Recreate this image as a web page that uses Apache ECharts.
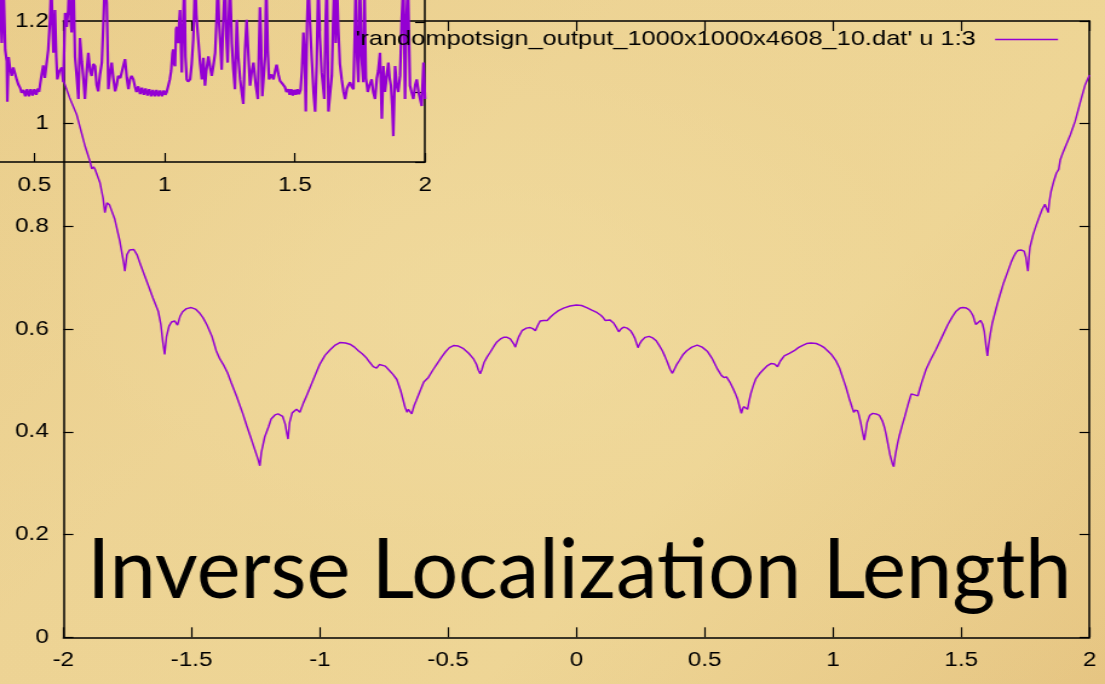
<!DOCTYPE html>
<html>
<head>
<meta charset="utf-8">
<script src="https://cdn.jsdelivr.net/npm/echarts@6.0.0/dist/echarts.min.js"></script>
<style>
  html, body { margin: 0; padding: 0; }
  #wrap {
    width: 1105px; height: 684px; overflow: hidden; position: relative;
    background:
      radial-gradient(ellipse at 45% 45%, rgba(242,222,162,0.55) 0%, rgba(238,214,150,0.25) 50%, rgba(226,192,124,0.0) 100%),
      linear-gradient(135deg, #e9cc8a 0%, #edd394 35%, #eed595 65%, #e6c582 100%);
  }
  #chart { width: 913px; height: 684px; transform: scaleX(1.2103); transform-origin: 0 0; }
</style>
</head>
<body>
<div id="wrap"><div id="chart"></div></div>
<script>
// ---- data ----
const seriesName = "'randompotsign_output_1000x1000x4608_10.dat' u 1:3";
const titleText = "Inverse Localization Length";

const mainXTicks = { min: -2, max: 2, step: 0.5 };
const mainYTicks = { min: 0, max: 1.2, step: 0.2 };
const insetXTicks = { min: 0, max: 2, step: 0.5 };
const insetYTicks = { min: 1.0, max: 1.3, step: 0.1 };

const mainCurve = [
  [-2.0, 1.085], [-1.975, 1.05], [-1.948, 1.018], [-1.915, 0.956], [-1.895, 0.925],
  [-1.889, 0.912], [-1.882, 0.916], [-1.876, 0.911], [-1.857, 0.885], [-1.845, 0.855],
  [-1.838, 0.827], [-1.830, 0.846], [-1.82, 0.842], [-1.80, 0.815], [-1.78, 0.772],
  [-1.765, 0.73], [-1.760, 0.713], [-1.752, 0.745], [-1.742, 0.754], [-1.735, 0.756],
  [-1.725, 0.755], [-1.712, 0.744], [-1.70, 0.727], [-1.68, 0.70], [-1.665, 0.68],
  [-1.651, 0.661], [-1.63, 0.635], [-1.62, 0.61], [-1.612, 0.575], [-1.605, 0.551],
  [-1.598, 0.585], [-1.588, 0.606], [-1.578, 0.614], [-1.566, 0.616], [-1.555, 0.608],
  [-1.545, 0.625], [-1.535, 0.634], [-1.52, 0.640], [-1.501, 0.642], [-1.485, 0.639],
  [-1.47, 0.632], [-1.455, 0.622], [-1.44, 0.608], [-1.42, 0.585], [-1.404, 0.558],
  [-1.39, 0.542], [-1.375, 0.530], [-1.36, 0.515], [-1.345, 0.495], [-1.325, 0.470],
  [-1.30, 0.435], [-1.285, 0.412], [-1.27, 0.39], [-1.25, 0.36], [-1.240, 0.345],
  [-1.234, 0.334], [-1.228, 0.36], [-1.215, 0.39], [-1.20, 0.41], [-1.19, 0.425],
  [-1.175, 0.433], [-1.163, 0.435], [-1.145, 0.43], [-1.135, 0.415], [-1.128, 0.395],
  [-1.124, 0.386], [-1.118, 0.418], [-1.108, 0.437], [-1.091, 0.444], [-1.078, 0.438],
  [-1.065, 0.455], [-1.052, 0.470], [-1.027, 0.500], [-1.012, 0.518], [-1.0, 0.532],
  [-0.98, 0.549], [-0.96, 0.56], [-0.94, 0.569], [-0.922, 0.574], [-0.90, 0.573],
  [-0.88, 0.57], [-0.865, 0.565], [-0.850, 0.558], [-0.835, 0.552], [-0.82, 0.545],
  [-0.805, 0.535], [-0.792, 0.527], [-0.779, 0.524], [-0.768, 0.531], [-0.759, 0.533],
  [-0.745, 0.528], [-0.73, 0.52], [-0.715, 0.512], [-0.700, 0.502], [-0.685, 0.48],
  [-0.668, 0.448], [-0.66, 0.438], [-0.655, 0.444], [-0.650, 0.447], [-0.642, 0.435],
  [-0.632, 0.452], [-0.625, 0.46], [-0.609, 0.480], [-0.595, 0.497], [-0.577, 0.506],
  [-0.56, 0.520], [-0.544, 0.532], [-0.525, 0.546], [-0.51, 0.556], [-0.495, 0.564],
  [-0.479, 0.568], [-0.46, 0.567], [-0.44, 0.562], [-0.42, 0.553], [-0.401, 0.542],
  [-0.39, 0.532], [-0.382, 0.52], [-0.375, 0.513], [-0.368, 0.522], [-0.36, 0.535],
  [-0.348, 0.546], [-0.336, 0.555], [-0.32, 0.568], [-0.31, 0.575], [-0.296, 0.581],
  [-0.284, 0.584], [-0.27, 0.584], [-0.258, 0.581], [-0.245, 0.572], [-0.238, 0.565],
  [-0.23, 0.578], [-0.225, 0.585], [-0.212, 0.597], [-0.195, 0.602], [-0.180, 0.603],
  [-0.170, 0.601], [-0.160, 0.597], [-0.150, 0.608], [-0.141, 0.616], [-0.128, 0.617],
  [-0.114, 0.617], [-0.10, 0.624], [-0.089, 0.629], [-0.07, 0.636], [-0.05, 0.641],
  [-0.025, 0.645], [0.0, 0.647],
  [0.02, 0.646], [0.04, 0.642], [0.06, 0.637], [0.081, 0.632], [0.095, 0.627],
  [0.105, 0.622], [0.112, 0.617], [0.120, 0.615], [0.130, 0.618], [0.138, 0.616],
  [0.145, 0.612], [0.155, 0.604], [0.165, 0.595], [0.175, 0.601], [0.185, 0.604],
  [0.198, 0.602], [0.211, 0.597], [0.22, 0.59], [0.228, 0.582], [0.240, 0.564],
  [0.247, 0.572], [0.255, 0.578], [0.268, 0.584], [0.283, 0.586], [0.297, 0.583],
  [0.31, 0.578], [0.322, 0.569], [0.335, 0.558], [0.345, 0.547], [0.355, 0.535],
  [0.365, 0.522], [0.374, 0.514], [0.38, 0.52], [0.385, 0.525], [0.392, 0.532],
  [0.400, 0.538], [0.415, 0.55], [0.43, 0.558], [0.45, 0.565], [0.471, 0.569],
  [0.49, 0.565], [0.51, 0.557], [0.53, 0.542], [0.550, 0.522], [0.565, 0.51],
  [0.575, 0.506], [0.585, 0.507], [0.598, 0.497], [0.61, 0.485], [0.62, 0.474],
  [0.628, 0.464], [0.637, 0.447], [0.643, 0.436], [0.648, 0.445], [0.652, 0.449],
  [0.66, 0.446], [0.667, 0.444], [0.673, 0.46], [0.68, 0.475], [0.69, 0.491],
  [0.699, 0.503], [0.715, 0.514], [0.73, 0.522], [0.745, 0.529], [0.758, 0.533],
  [0.772, 0.532], [0.784, 0.527], [0.795, 0.538], [0.810, 0.548], [0.83, 0.553],
  [0.849, 0.558], [0.865, 0.564], [0.88, 0.568], [0.897, 0.572], [0.914, 0.573],
  [0.935, 0.572], [0.953, 0.568], [0.966, 0.564], [0.979, 0.558], [0.995, 0.55],
  [1.012, 0.538], [1.025, 0.525], [1.035, 0.51], [1.05, 0.488], [1.064, 0.464],
  [1.075, 0.447], [1.081, 0.438], [1.086, 0.442], [1.090, 0.444], [1.096, 0.441],
  [1.100, 0.435], [1.108, 0.418], [1.115, 0.40], [1.122, 0.384], [1.127, 0.398],
  [1.133, 0.418], [1.143, 0.432], [1.155, 0.436], [1.168, 0.435], [1.181, 0.432],
  [1.192, 0.422], [1.20, 0.41], [1.207, 0.395], [1.214, 0.377], [1.222, 0.356],
  [1.228, 0.345], [1.233, 0.336], [1.237, 0.332], [1.241, 0.348], [1.245, 0.36],
  [1.252, 0.378], [1.259, 0.393], [1.27, 0.413], [1.28, 0.43], [1.292, 0.452],
  [1.305, 0.474], [1.318, 0.472], [1.331, 0.470], [1.338, 0.483], [1.345, 0.495],
  [1.355, 0.51], [1.363, 0.522], [1.38, 0.54], [1.402, 0.561], [1.425, 0.585],
  [1.448, 0.609], [1.465, 0.624], [1.48, 0.635], [1.495, 0.641], [1.507, 0.642],
  [1.52, 0.641], [1.530, 0.638], [1.538, 0.633], [1.546, 0.626], [1.552, 0.616],
  [1.557, 0.609], [1.565, 0.612], [1.575, 0.617], [1.583, 0.61], [1.590, 0.595],
  [1.596, 0.57], [1.602, 0.548], [1.607, 0.57], [1.613, 0.59], [1.621, 0.612],
  [1.630, 0.629], [1.640, 0.648], [1.650, 0.665], [1.665, 0.69], [1.682, 0.713],
  [1.695, 0.731], [1.705, 0.742], [1.713, 0.749], [1.721, 0.753], [1.733, 0.754],
  [1.745, 0.752], [1.752, 0.74], [1.756, 0.725], [1.760, 0.713], [1.764, 0.74],
  [1.768, 0.76], [1.775, 0.774], [1.780, 0.784], [1.792, 0.802], [1.805, 0.82],
  [1.816, 0.834], [1.826, 0.843], [1.833, 0.84], [1.839, 0.827], [1.844, 0.85],
  [1.850, 0.868], [1.860, 0.887], [1.871, 0.904], [1.880, 0.911], [1.886, 0.930],
  [1.895, 0.942], [1.905, 0.954], [1.925, 0.978], [1.944, 1.005], [1.963, 1.04],
  [1.983, 1.076], [2.0, 1.095]
];

const insetCurve = [
  [0.368, 1.24], [0.375, 1.17], [0.381, 1.26], [0.388, 1.16], [0.394, 1.144],
  [0.396, 1.086], [0.401, 1.15], [0.406, 1.135], [0.413, 1.123], [0.419, 1.135],
  [0.426, 1.126], [0.432, 1.118], [0.438, 1.111], [0.445, 1.106], [0.451, 1.099],
  [0.458, 1.103], [0.465, 1.094], [0.472, 1.104], [0.479, 1.094], [0.486, 1.104],
  [0.493, 1.095], [0.500, 1.104], [0.507, 1.096], [0.514, 1.105], [0.518, 1.100],
  [0.522, 1.111], [0.528, 1.125], [0.534, 1.138], [0.540, 1.12], [0.547, 1.118],
  [0.553, 1.16], [0.560, 1.203], [0.565, 1.26], [0.569, 1.2], [0.573, 1.156],
  [0.577, 1.19], [0.579, 1.217], [0.584, 1.15], [0.588, 1.118], [0.596, 1.13],
  [0.605, 1.135], [0.611, 1.114], [0.615, 1.17], [0.618, 1.213], [0.621, 1.2],
  [0.624, 1.193], [0.630, 1.217], [0.634, 1.26], [0.640, 1.2], [0.643, 1.185],
  [0.650, 1.26], [0.656, 1.15], [0.663, 1.12], [0.669, 1.09], [0.675, 1.177],
  [0.682, 1.144], [0.688, 1.12], [0.694, 1.09], [0.701, 1.13], [0.707, 1.156],
  [0.714, 1.13], [0.720, 1.123], [0.726, 1.14], [0.733, 1.137], [0.739, 1.11],
  [0.745, 1.101], [0.752, 1.125], [0.759, 1.142], [0.765, 1.2], [0.771, 1.26],
  [0.778, 1.227], [0.784, 1.104], [0.790, 1.125], [0.797, 1.142], [0.803, 1.12],
  [0.810, 1.101], [0.816, 1.11], [0.822, 1.123], [0.830, 1.12], [0.840, 1.135],
  [0.848, 1.147], [0.855, 1.12], [0.861, 1.104], [0.867, 1.118], [0.873, 1.123],
  [0.880, 1.118], [0.886, 1.108], [0.892, 1.100], [0.899, 1.108], [0.906, 1.097],
  [0.913, 1.106], [0.920, 1.096], [0.927, 1.105], [0.934, 1.095], [0.941, 1.104],
  [0.948, 1.094], [0.955, 1.103], [0.962, 1.094], [0.969, 1.103], [0.976, 1.094],
  [0.983, 1.102], [0.990, 1.094], [0.997, 1.102], [1.003, 1.096], [1.008, 1.100],
  [1.014, 1.109], [1.020, 1.118], [1.025, 1.130], [1.030, 1.155], [1.033, 1.161],
  [1.037, 1.14], [1.040, 1.137], [1.044, 1.19], [1.047, 1.193], [1.050, 1.175],
  [1.053, 1.170], [1.056, 1.20], [1.059, 1.217], [1.063, 1.16], [1.066, 1.128],
  [1.071, 1.2], [1.076, 1.26], [1.080, 1.15], [1.085, 1.118], [1.090, 1.115],
  [1.098, 1.118], [1.104, 1.14], [1.110, 1.175], [1.114, 1.22], [1.117, 1.26],
  [1.122, 1.21], [1.127, 1.185], [1.136, 1.142], [1.143, 1.118], [1.149, 1.149],
  [1.155, 1.109], [1.160, 1.13], [1.168, 1.151], [1.175, 1.135], [1.181, 1.123],
  [1.188, 1.14], [1.194, 1.156], [1.199, 1.2], [1.204, 1.26], [1.209, 1.2],
  [1.213, 1.175], [1.219, 1.132], [1.225, 1.2], [1.232, 1.26], [1.237, 1.18],
  [1.242, 1.142], [1.246, 1.2], [1.251, 1.26], [1.258, 1.17], [1.264, 1.132],
  [1.270, 1.104], [1.277, 1.203], [1.283, 1.15], [1.290, 1.118], [1.296, 1.10],
  [1.302, 1.083], [1.309, 1.161], [1.315, 1.203], [1.322, 1.15], [1.328, 1.109],
  [1.335, 1.13], [1.341, 1.142], [1.350, 1.11], [1.358, 1.090], [1.366, 1.221],
  [1.370, 1.18], [1.375, 1.094], [1.380, 1.12], [1.386, 1.151], [1.390, 1.26],
  [1.396, 1.16], [1.401, 1.118], [1.410, 1.125], [1.418, 1.118], [1.424, 1.13],
  [1.430, 1.139], [1.437, 1.125], [1.443, 1.116], [1.452, 1.112], [1.462, 1.107],
  [1.468, 1.100], [1.475, 1.104], [1.480, 1.096], [1.486, 1.104], [1.492, 1.095],
  [1.498, 1.103], [1.504, 1.096], [1.510, 1.104], [1.516, 1.097], [1.522, 1.103],
  [1.527, 1.130], [1.533, 1.185], [1.538, 1.15], [1.542, 1.072], [1.547, 1.2],
  [1.552, 1.26], [1.558, 1.2], [1.565, 1.147], [1.572, 1.099], [1.578, 1.072],
  [1.584, 1.142], [1.590, 1.26], [1.596, 1.18], [1.603, 1.128], [1.608, 1.11],
  [1.613, 1.090], [1.618, 1.2], [1.623, 1.26], [1.629, 1.072], [1.636, 1.10],
  [1.642, 1.123], [1.647, 1.2], [1.652, 1.26], [1.657, 1.170], [1.662, 1.25],
  [1.667, 1.19], [1.673, 1.14], [1.680, 1.118], [1.687, 1.10], [1.693, 1.090],
  [1.700, 1.105], [1.706, 1.11], [1.712, 1.114], [1.718, 1.108], [1.725, 1.104],
  [1.730, 1.18], [1.734, 1.26], [1.739, 1.15], [1.744, 1.114], [1.750, 1.26],
  [1.756, 1.15], [1.763, 1.114], [1.767, 1.26], [1.773, 1.12], [1.780, 1.100],
  [1.787, 1.11], [1.795, 1.118], [1.801, 1.10], [1.808, 1.090], [1.815, 1.12],
  [1.820, 1.13], [1.827, 1.156], [1.834, 1.062], [1.840, 1.137], [1.846, 1.100],
  [1.852, 1.12], [1.859, 1.142], [1.864, 1.12], [1.869, 1.109], [1.874, 1.08],
  [1.878, 1.037], [1.885, 1.137], [1.891, 1.11], [1.897, 1.100], [1.904, 1.123],
  [1.910, 1.20], [1.917, 1.26], [1.923, 1.090], [1.928, 1.2], [1.934, 1.26],
  [1.942, 1.109], [1.948, 1.10], [1.955, 1.090], [1.962, 1.11], [1.968, 1.118],
  [1.975, 1.10], [1.981, 1.090], [1.987, 1.080], [1.994, 1.142], [2.0, 1.090]
];

// ---- styling / layout ----
const SX = 1105 / 913;           // horizontal stretch of the slide image
const ink = '#000';
const purple = '#9400d3';
const labelFont = 'Liberation Sans, Arial, Helvetica, sans-serif';
const axisLine = { show: true, onZero: false, lineStyle: { color: ink, width: 1.5 } };

function makeAxis(grid, ticks, pos, showLabel, tickLen, margin) {
  return {
    type: 'value', gridIndex: grid, position: pos,
    min: ticks.min, max: ticks.max, interval: ticks.step,
    axisLine: axisLine,
    axisTick: { show: true, inside: true, length: tickLen, lineStyle: { color: ink, width: 1.2 } },
    axisLabel: { show: showLabel, color: ink, fontSize: 20, fontFamily: labelFont, margin: margin, showMinLabel: true, showMaxLabel: true, hideOverlap: false },
    splitLine: { show: false }
  };
}

const chart = echarts.init(document.getElementById('chart'), null, { renderer: 'canvas' });
chart.setOption({
  animation: false,
  backgroundColor: 'transparent',
  grid: [
    { left: 52.3, top: 21, width: 847.9, height: 616.3, outerBoundsMode: 'none', containLabel: false },
    { left: -79.2, top: -48, width: 430.4, height: 210, outerBoundsMode: 'none', containLabel: false }
  ],
  xAxis: [
    makeAxis(0, mainXTicks, 'bottom', true, 10, 13),
    makeAxis(0, mainXTicks, 'top', false, 10, 8),
    makeAxis(1, insetXTicks, 'bottom', true, 9, 13)
  ],
  yAxis: [
    makeAxis(0, mainYTicks, 'left', true, 8.3, 12),
    makeAxis(0, mainYTicks, 'right', false, 8.3, 8),
    makeAxis(1, insetYTicks, 'right', false, 8.3, 8)
  ],
  legend: {
    data: [seriesName],
    right: 38.8, top: 29, padding: 0,
    align: 'right',
    icon: 'rect', itemWidth: 52, itemHeight: 1.6,
    textStyle: { color: ink, fontSize: 21, fontFamily: labelFont, padding: [0, 11, 0, 0] }
  },
  graphic: [{
    type: 'text', x: 87 / SX, y: 571, scaleX: 1 / SX, z: 100,
    style: { text: titleText, fill: ink, fontSize: 83, fontFamily: 'Lato', verticalAlign: 'middle', align: 'left' }
  }],
  series: [
    {
      name: seriesName, type: 'line', xAxisIndex: 0, yAxisIndex: 0,
      data: mainCurve, showSymbol: false, symbol: 'none',
      lineStyle: { color: purple, width: 1.5 }, itemStyle: { color: purple }
    },
    {
      name: 'inset', type: 'line', xAxisIndex: 2, yAxisIndex: 2,
      data: insetCurve, showSymbol: false, symbol: 'none', clip: true,
      lineStyle: { color: purple, width: 2.2 }, itemStyle: { color: purple }
    }
  ]
});
</script>
</body>
</html>
